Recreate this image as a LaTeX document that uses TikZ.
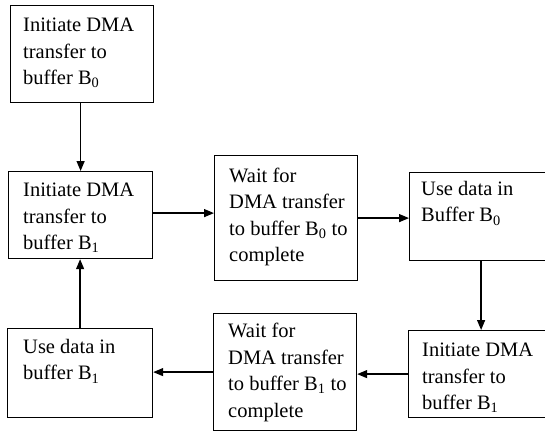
\documentclass[tikz,border=0pt]{standalone}
\usepackage{fontspec}
\setmainfont{Liberation Serif}
\usetikzlibrary{arrows.meta,calc}
\begin{document}
\begin{tikzpicture}[x=1pt,y=-1pt,
  box/.style={draw=black,line width=1.2pt,rectangle,inner sep=0pt},
  txt/.style={anchor=north west,inner sep=0pt,align=left,
    font=\fontsize{20.5}{26.5}\selectfont},
  conn/.style={line width=1.3pt,-{Triangle[length=10pt,width=8pt]}},
  plain/.style={line width=1.3pt}]
\useasboundingbox (0,0) rectangle (545,433);
% boxes
\node[box,minimum width=143pt,minimum height=97pt,anchor=north west] (b1) at (10,5) {};
\node[box,minimum width=144pt,minimum height=87pt,anchor=north west] (b2) at (8,171) {};
\node[box,minimum width=143pt,minimum height=125pt,anchor=north west] (b3) at (214,155) {};
\node[box,minimum width=140pt,minimum height=88pt,anchor=north west] (b4) at (409,172) {};
\node[box,minimum width=140pt,minimum height=87pt,anchor=north west] (b5) at (408,330) {};
\node[box,minimum width=143pt,minimum height=117pt,anchor=north west] (b6) at (213,313) {};
\node[box,minimum width=145pt,minimum height=89pt,anchor=north west] (b7) at (7,328) {};
% texts (offset = first baseline - ascender height)
\node[txt] (t1) at ($(b1.north west)+(13,13)$) {Initiate DMA\\transfer to\\buffer B\textsubscript{0}};
\node[txt] (t2) at ($(b2.north west)+(15,12)$) {Initiate DMA\\transfer to\\buffer B\textsubscript{1}};
\node[txt] (t3) at ($(b3.north west)+(15,12.5)$) {Wait for\\DMA transfer\\to buffer B\textsubscript{0} to\\complete};
\node[txt] (t4) at ($(b4.north west)+(12,9)$) {Use data in\\Buffer B\textsubscript{0}};
\node[txt] (t5) at ($(b5.north west)+(14,13)$) {Initiate DMA\\transfer to\\buffer B\textsubscript{1}};
\node[txt] (t6) at ($(b6.north west)+(15,10)$) {Wait for\\DMA transfer\\to buffer B\textsubscript{1} to\\complete};
\node[txt] (t7) at ($(b7.north west)+(16,11)$) {Use data in\\buffer B\textsubscript{1}};
% connectors
\draw[conn] ([xshift=-1.5pt]b1.south) -- ([xshift=-1.5pt]b1.south |- b2.north);
\draw[conn] ([yshift=2pt]b2.east) -- ([yshift=2pt]b2.east -| b3.west);
\draw[conn] (b3.east) -- (b3.east -| b4.west);
\draw[conn] ([xshift=1.5pt]b4.south) -- ([xshift=1.5pt]b4.south |- b5.north);
\draw[conn] (b5.west) -- (b5.west -| b6.east);
\draw[conn] (b6.west) -- (b6.west -| b7.east);
\draw[conn] (b7.north) -- (b7.north |- b2.south);
\end{tikzpicture}
\end{document}
